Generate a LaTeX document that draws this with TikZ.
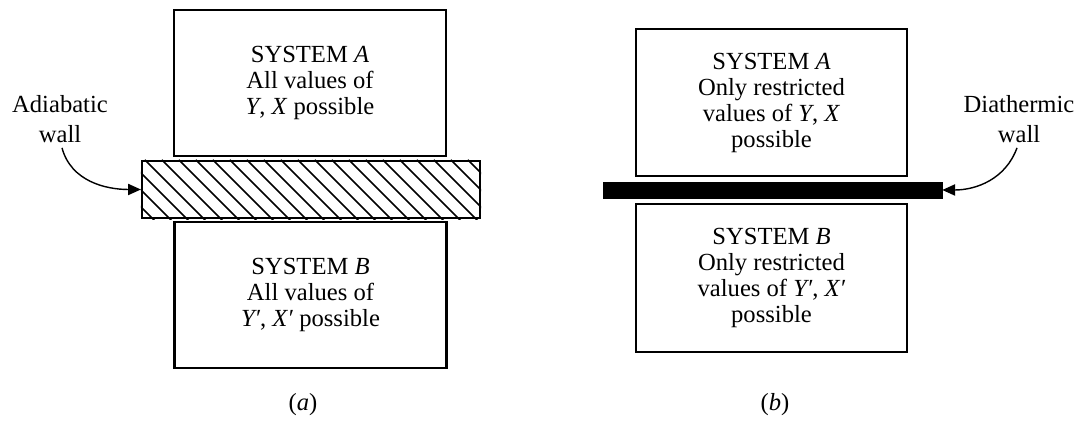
\documentclass[tikz,border=0pt]{standalone}
\usepackage{fontspec}
\setmainfont{Liberation Serif}
\usetikzlibrary{positioning,calc,arrows.meta}
\tikzset{
  sys/.style={rectangle, minimum width=6.8cm, minimum height=3.65cm, text centered, align=center, draw=black, line width=1.6pt},
  adw/.style={rectangle, minimum width=8.45cm, minimum height=1.425cm, draw=black, line width=1.6pt},
  diaw/.style={rectangle, minimum width=8.475cm, minimum height=0.4cm, draw=black, fill=black},
  lbl/.style={align=center, inner sep=2pt},
  pt/.style={line width=1pt, -{Triangle[length=3.2mm,width=2.8mm]}},
}

\begin{document}
\begin{tikzpicture}[font=\fontsize{17.5}{18.5}\selectfont]
	\useasboundingbox (0,0) rectangle (26.975,10.575);
	% (a) adiabatic wall
	\node[sys] (sysA) at (7.75,8.5) {SYSTEM \textit{A}\\All values of\\\textit{Y}, \textit{X} possible};
	\node[adw] (adwall) at (7.775,5.8375) {};
	\node[sys] (sysB) at (7.7625,3.2) {SYSTEM \textit{B}\\All values of\\\textit{Y′}, \textit{X′} possible};
	\begin{scope}
		\clip (adwall.south west) rectangle (adwall.north east);
		\foreach \i in {-4,...,20}
			\draw[line width=1.1pt] ($(adwall.north west)+(\i*0.425+0.1,0)$) -- ++(1.6,-1.6);
	\end{scope}
	\node[adw] at (adwall) {};
	\node[lbl] (adlabel) at (1.5,7.6) {Adiabatic\\[3pt]wall};
	\node (capa) at (7.575,0.45) {(\textit{a})};
	%
	% (b) diathermic wall
	\node[sys, minimum width=6.775cm, minimum height=3.675cm] (sysA2) at (19.2875,8.0125) {SYSTEM \textit{A}\\Only restricted\\values of \textit{Y}, \textit{X}\\possible};
	\node[diaw] (diawall) at (19.3125,5.825) {};
	\node[sys, minimum width=6.775cm, minimum height=3.7cm] (sysB2) at (19.2875,3.625) {SYSTEM \textit{B}\\Only restricted\\values of \textit{Y′}, \textit{X′}\\possible};
	\node[lbl] (dialabel) at (25.475,7.6) {Diathermic\\[3pt]wall};
	\node (capb) at (19.375,0.45) {(\textit{b})};
	%
	\draw[pt] (adlabel.south) ++(0.05,-0.05) to[out=-75,in=180] (adwall.west);
	\draw[pt] (dialabel.south) ++(-0.05,-0.05) to[out=-110,in=0] (diawall.east);
\end{tikzpicture}
\end{document}
